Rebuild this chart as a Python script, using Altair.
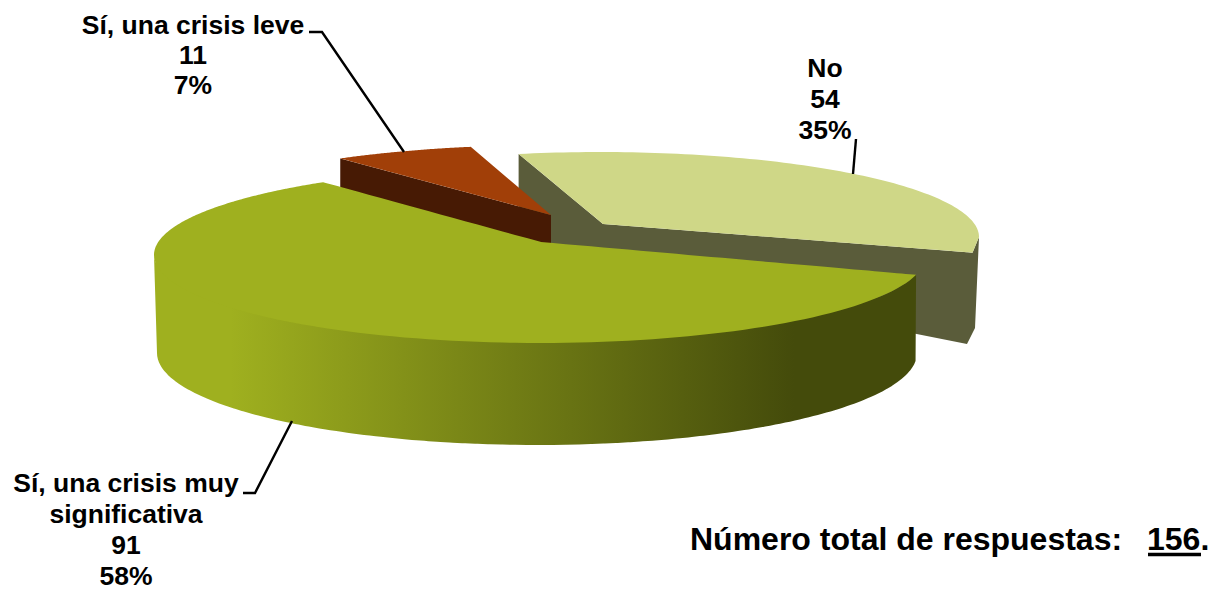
import numpy as np
import pandas as pd
import altair as alt

# ---- values ----
answers = ["No", "Sí, una crisis muy significativa", "Sí, una crisis leve"]
counts = [54, 91, 11]
percent_labels = ["35%", "58%", "7%"]
total_label = "156."
total_text = "Número total de respuestas:"

# ---- pie geometry (projected, exploded 3D pie) ----
START_DEG = -12.4
PERSPECTIVE_NUDGE = {"No": (0, -11.6), "Mucha": (-9.2, 3.6), "Leve": (4.1, 0.2)}
cum = np.cumsum([0] + counts) / sum(counts) * 360 + START_DEG
edges_no = (cum[0] + PERSPECTIVE_NUDGE["No"][0], cum[1] + PERSPECTIVE_NUDGE["No"][1])
edges_big = (cum[1] + PERSPECTIVE_NUDGE["Mucha"][0], cum[2] + PERSPECTIVE_NUDGE["Mucha"][1])
edges_small = (cum[2] + PERSPECTIVE_NUDGE["Leve"][0], cum[3] + PERSPECTIVE_NUDGE["Leve"][1])


def arc(cx, cy, a, b, d0, d1, n=90):
    t = np.radians(np.linspace(d0, d1, n))
    return list(zip(cx + a * np.sin(t), cy - b * np.cos(t)))


def at(cx, cy, a, b, d):
    return arc(cx, cy, a, b, d, d, 1)[0]


def band(upper, lower):
    ux, uy = map(np.array, zip(*sorted(upper, key=lambda p: p[0])))
    lx, ly = map(np.array, zip(*sorted(lower, key=lambda p: p[0])))
    xs = np.unique(np.concatenate([ux, lx]))
    return pd.DataFrame({"x": xs, "y": np.interp(xs, ux, uy), "y2": np.interp(xs, lx, ly)})


X = alt.Scale(domain=[8, 1208], nice=False, zero=False)
Y = alt.Scale(domain=[592, 8], nice=False, zero=False)


def area(df, color):
    return alt.Chart(df).mark_area(color=color, line=False, opacity=1).encode(
        x=alt.X("x:Q", scale=X, axis=None),
        y=alt.Y("y:Q", scale=Y, axis=None),
        y2="y2:Q",
    )


def polyline(xs, ys):
    df = pd.DataFrame({"x": xs, "y": ys, "o": range(len(xs))})
    return alt.Chart(df).mark_line(color="black", strokeWidth=2.4).encode(
        x=alt.X("x:Q", scale=X, axis=None),
        y=alt.Y("y:Q", scale=Y, axis=None),
        order="o:Q",
    )


# "No" slice
NO = (600, 237, 379, 85)
no_apex = (603, 224)
no_a, no_b = at(*NO, edges_no[0]), at(*NO, edges_no[1])
no_peak = at(*NO, 90)
no_top = area(band(arc(*NO, edges_no[0], 90), [no_a, no_apex, no_b, no_peak]), "#CFD787")
no_wall = area(
    band([no_a, no_apex, no_b, no_peak],
         [(no_a[0], 255), (967, 344), (975, 328), no_peak]),
    "#5A5C3A",
)

# "leve" slice
LEVE = (551, 225, 380, 80)
lv_a, lv_b = at(*LEVE, edges_small[0]), at(*LEVE, edges_small[1])
lv_apex = (551, 215)
lv_top = area(band(arc(*LEVE, edges_small[0], edges_small[1]) + [lv_apex], [lv_a, lv_apex]), "#A13F08")
lv_wall = area(band([lv_a, lv_apex], [(lv_a[0], 192), (lv_apex[0], 248)]), "#471A04")

# "muy significativa" slice
BIG = (540, 255, 386, 88)
BASE = (537, 353, 380, 92)
bg_apex = (541, 242)
bg_left = at(*BIG, 270)
bg_c, bg_r = at(*BIG, edges_big[1]), at(*BIG, edges_big[0])
bg_lower = arc(*BIG, 270, edges_big[0])
bg_top = area(band(arc(*BIG, 270, edges_big[1]) + [bg_apex, bg_r], bg_lower), "#9FB01F")
# the wall runs a little way under the top face, so no seam shows between them
UNDERLAP = 4
bg_wall_upper = [(x, y - UNDERLAP * min(1, max(0, (880 - x) / 40)) * min(1, (x - bg_left[0]) / 6))
                 for x, y in bg_lower]
bg_wall = area(
    band(bg_wall_upper, [bg_left] + arc(*BASE, 270, 95) + [bg_r]),
    alt.Gradient(
        gradient="linear", x1=0, x2=1, y1=0, y2=0,
        stops=[
            alt.GradientStop(offset=0, color="#9FB01F"),
            alt.GradientStop(offset=0.1, color="#9FB01F"),
            alt.GradientStop(offset=0.84, color="#444B0B"),
            alt.GradientStop(offset=1, color="#444B0B"),
        ],
    ),
)

# leaders
leaders = [
    polyline([309, 322, 404], [32, 32, 152]),
    polyline([856, 853], [139, 174]),
    polyline([243, 255, 292], [493, 493, 421]),
]

# labels
rows = []
for cx, ys, lines in [
    (825, [69, 100, 131], [answers[0], str(counts[0]), percent_labels[0]]),
    (126, [484, 515, 546, 577], ["Sí, una crisis muy", "significativa", str(counts[1]), percent_labels[1]]),
    (193, [26, 56, 86], [answers[2], str(counts[2]), percent_labels[2]]),
]:
    rows += [{"x": cx, "y": y, "t": t} for y, t in zip(ys, lines)]
labels = alt.Chart(pd.DataFrame(rows)).mark_text(
    font="Liberation Sans", fontWeight="bold", fontSize=26.5, color="black", align="center", baseline="middle"
).encode(
    x=alt.X("x:Q", scale=X, axis=None), y=alt.Y("y:Q", scale=Y, axis=None), text="t:N"
)

tot = alt.Chart(pd.DataFrame({"x": [690, 1147], "y": [550, 550], "t": [total_text, total_label]})).mark_text(
    font="Liberation Sans", fontWeight="bold", fontSize=32, color="black", align="left", baseline="alphabetic"
).encode(
    x=alt.X("x:Q", scale=X, axis=None), y=alt.Y("y:Q", scale=Y, axis=None), text="t:N"
)
underline = alt.Chart(pd.DataFrame({"x": [1148], "x2": [1201], "y": [554.5]})).mark_rule(
    color="black", strokeWidth=3.5
).encode(
    x=alt.X("x:Q", scale=X, axis=None), x2="x2:Q", y=alt.Y("y:Q", scale=Y, axis=None)
)

chart = alt.layer(
    no_wall, no_top, lv_wall, lv_top, bg_wall, bg_top, *leaders, labels, tot, underline
).properties(
    width=1200, height=584, padding=0, background="white", autosize=alt.AutoSizeParams(type="none")
).configure_view(stroke=None)

chart.save("out.html", embed_options={"renderer": "svg", "actions": False})
